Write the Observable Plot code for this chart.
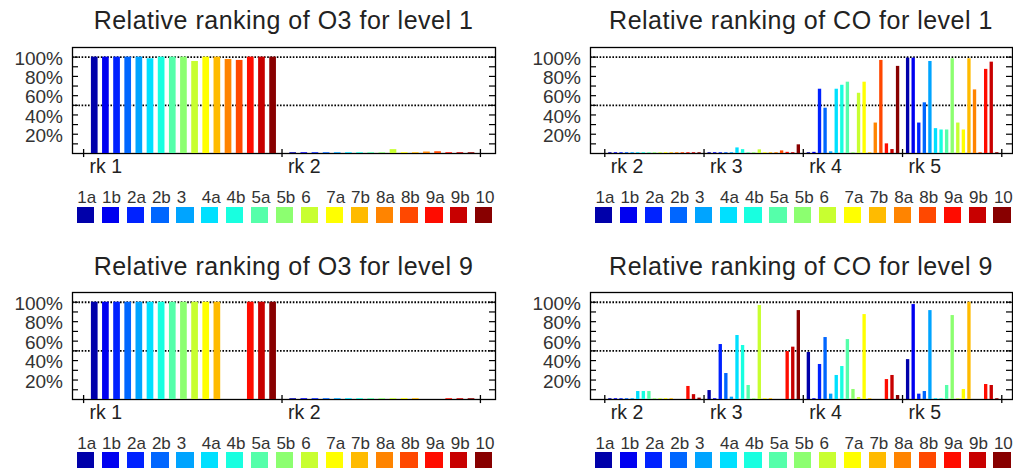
<!DOCTYPE html>
<html><head><meta charset="utf-8">
<script src="https://cdn.jsdelivr.net/npm/d3@7"></script>
<script src="https://cdn.jsdelivr.net/npm/@observablehq/plot@0.6"></script>
<style>
body{margin:0;background:#fff;}
#root{position:relative;width:1013px;height:468px;overflow:hidden;font-family:"Liberation Sans",Arial,Helvetica,sans-serif;}
.abs{position:absolute;}
.title{position:absolute;font-size:25px;line-height:25px;letter-spacing:0.5px;color:#222;white-space:nowrap;transform:translateX(-50%);}
.lab{position:absolute;font-size:17px;line-height:17px;color:#333;white-space:nowrap;}
.sw{position:absolute;width:17.3px;height:16.7px;}
</style></head><body><div id="root"></div>
<script>
// ---- data ----
const categories = ["1a","1b","2a","2b","3","4a","4b","5a","5b","6","7a","7b","8a","8b","9a","9b","10"];
const colors = ["#0000aa","#0000f0","#0022ff","#0066ff","#00a4ff","#00e0ff","#18ffe0","#55ffaa","#8cff70","#c8ff30","#ffff00","#ffbb00","#ff8400","#ff4800","#ff0c00","#c80000","#880000"];
const yTickLabels = [0.2, 0.4, 0.6, 0.8, 1.0];
const yMinorTicks = [0.1,0.2,0.3,0.4,0.5,0.6,0.7,0.8,0.9,1.0];
const dottedLevels = [0.5, 1.0];

// O3 level 1 (ranks 1, 2)
const o3L1_rk1 = [1.00,1.00,1.00,1.00,1.00,0.983,1.00,1.00,1.00,0.955,1.00,1.00,0.976,0.966,1.00,1.00,1.00];
const o3L1_rk2 = [0.008,0.008,0.008,0.008,0.008,0.008,0.008,0.008,0.008,0.04,0.008,0.008,0.015,0.018,0.008,0.008,0.008];
// O3 level 9 (ranks 1, 2)
const o3L9_rk1 = [1.00,1.00,1.00,1.00,1.00,1.00,1.00,1.00,1.00,1.00,1.00,1.00,null,null,1.00,1.00,1.00];
const o3L9_rk2 = [0.008,0.008,0.008,0.008,0.008,0.008,0.008,0.008,0.008,0.008,0.008,0.008,null,null,0.008,0.008,0.008];
// CO level 1 (ranks 2..5)
const coL1_rk2 = [0.008,0.008,0.008,0.008,0.008,0.008,0.008,0.008,0.008,0.008,0.008,0.008,0.008,0.008,0.008,0.008,0.008];
const coL1_rk3 = [0.008,0.008,0.008,0.008,0.008,0.058,0.04,0.008,0.008,0.038,0.008,0.008,0.008,0.027,0.012,0.008,0.09];
const coL1_rk4 = [0.008,0.012,0.667,0.47,0.017,0.667,0.708,0.74,0.008,0.625,0.74,0.008,0.316,0.966,0.10,0.041,0.904];
const coL1_rk5 = [0.99,0.99,0.316,0.526,0.955,0.258,0.244,0.244,0.983,0.316,0.244,0.983,0.66,0.008,0.873,0.948,0.008];
// CO level 9 (ranks 2..5)
const coL9_rk2 = [0.008,0.008,0.008,0.008,0.008,0.082,0.082,0.082,0.008,0.008,0.008,0.008,null,null,0.134,0.05,0.014];
const coL9_rk3 = [0.092,0.008,0.565,0.267,0.024,0.658,0.555,0.144,0.008,0.966,0.008,0.008,null,null,0.493,0.538,0.914];
const coL9_rk4 = [0.483,0.008,0.36,0.637,0.055,0.247,0.339,0.616,0.103,0.02,0.873,0.008,null,null,0.205,0.247,0.041];
const coL9_rk5 = [0.41,0.976,0.055,0.082,0.914,0.008,0.008,0.144,0.863,0.008,0.103,1.00,null,null,0.154,0.144,0.008];

const titles = ["Relative ranking of O3 for level 1","Relative ranking of CO for level 1","Relative ranking of O3 for level 9","Relative ranking of CO for level 9"];

// ---- layout ----
const root = document.getElementById("root");
const FONT = '"Liberation Sans",Arial,Helvetica,sans-serif';
const SLOTS = 17.8;

function panel(o) {
  const rows = [];
  o.ranks.forEach((r, k) => {
    o.series[k].forEach((v, i) => {
      if (v != null) rows.push({rank: r, i, cat: categories[i], value: v});
    });
  });
  const H = o.frameH;
  const W = o.width - o.marginLeft - o.marginRight;
  const chart = Plot.plot({
    width: o.width,
    height: o.marginTop + H + 25,
    marginTop: o.marginTop, marginBottom: 25,
    marginLeft: o.marginLeft, marginRight: o.marginRight,
    x: {domain: o.domain, axis: null},
    y: {domain: [0, 1.1], axis: null},
    color: {domain: categories, range: colors},
    style: {background: "transparent", fontFamily: FONT, overflow: "visible"},
    marks: [
      Plot.ruleY(dottedLevels, {y: d => d, stroke: "#000", strokeWidth: 1.8, strokeDasharray: "1.6,1.6"}),
      Plot.tickY(yMinorTicks, {y: d => d, insetRight: W - 6, stroke: "#000", strokeWidth: 1.2}),
      Plot.tickY(yMinorTicks, {y: d => d, insetLeft: W - 6, stroke: "#000", strokeWidth: 1.2}),
      Plot.frame({stroke: "#000", strokeWidth: 1.3}),
      Plot.rectY(rows, {
        x1: d => d.rank + (d.i + 0.7) / SLOTS,
        x2: d => d.rank + (d.i + 1.3) / SLOTS,
        y: "value", fill: "cat"
      }),
      Plot.tickX(o.tickRanks, {x: d => d, insetTop: H - 4, stroke: "#000", strokeWidth: 1.3}),
      Plot.ruleX(o.tickRanks, {x: d => d, y1: 0, y2: -0.042, stroke: "#000", strokeWidth: 1.3}),
      Plot.text(o.ranks, {x: d => d, frameAnchor: "bottom", text: d => "rk " + d, textAnchor: "start", lineAnchor: "bottom", dx: 6, dy: 19.6, fontSize: 19.5, fill: "#222"}),
      Plot.text(yTickLabels, {y: d => d, frameAnchor: "left", text: d => Math.round(d * 100) + "%", textAnchor: "end", dx: -9.5, dy: 1.5, fontSize: 19, letterSpacing: "0.6px", fill: "#333"})
    ]
  });
  const holder = document.createElement("div");
  holder.className = "abs";
  holder.style.left = o.left + "px";
  holder.style.top = o.top + "px";
  holder.appendChild(chart);
  root.appendChild(holder);

  // title
  const t = document.createElement("div");
  t.className = "title";
  t.textContent = o.title;
  t.style.left = (o.left + o.marginLeft + W / 2) + "px";
  t.style.top = o.titleTop + "px";
  root.appendChild(t);

  // legend
  categories.forEach((c, i) => {
    const x = o.legendLeft + i * 24.9;
    const l = document.createElement("div");
    l.className = "lab";
    l.textContent = c;
    l.style.left = (x + 0.5) + "px";
    l.style.top = o.legendTop + "px";
    root.appendChild(l);
    const s = document.createElement("div");
    s.className = "sw";
    s.style.left = x + "px";
    s.style.top = (o.legendTop + 17.8) + "px";
    s.style.background = colors[i];
    root.appendChild(s);
  });
}

const O3cfg = {width: 500, marginLeft: 72, marginRight: 5, domain: [0.944, 3.076], ranks: [1, 2], tickRanks: [1, 2, 3], legendLeft: 76.7};
const COcfg = {width: 513, marginLeft: 90, marginRight: 1, domain: [1.856, 6.108], ranks: [2, 3, 4, 5], tickRanks: [2, 3, 4, 5, 6], legendLeft: 595};

panel({...O3cfg, left: 0, top: 40, marginTop: 7, frameH: 106, series: [o3L1_rk1, o3L1_rk2], title: titles[0], titleTop: 8.3, legendTop: 188.9});
panel({...COcfg, left: 500, top: 40, marginTop: 7, frameH: 106, series: [coL1_rk2, coL1_rk3, coL1_rk4, coL1_rk5], title: titles[1], titleTop: 8.3, legendTop: 188.9});
panel({...O3cfg, left: 0, top: 285, marginTop: 7, frameH: 107, series: [o3L9_rk1, o3L9_rk2], title: titles[2], titleTop: 253.8, legendTop: 434.6});
panel({...COcfg, left: 500, top: 285, marginTop: 7, frameH: 107, series: [coL9_rk2, coL9_rk3, coL9_rk4, coL9_rk5], title: titles[3], titleTop: 253.8, legendTop: 434.6});
</script></body></html>
